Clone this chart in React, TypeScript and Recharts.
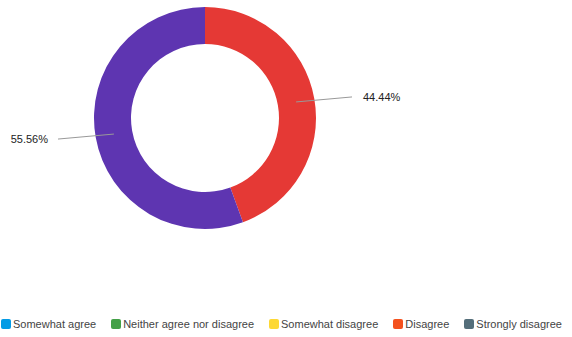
import React from "react";
import { PieChart, Pie, Cell, Legend } from "recharts";

const categories = ["Somewhat agree", "Neither agree nor disagree", "Somewhat disagree", "Disagree", "Strongly disagree"];
const responses = [0, 0, 0, 4, 5];
const legendColors = ["#039BE5", "#43A047", "#FDD835", "#F4511E", "#546E7A"];
const sliceColors = ["#039BE5", "#43A047", "#FDD835", "#E53935", "#5E35B1"];

const data = categories
  .map((name, i) => ({ name, value: responses[i], color: sliceColors[i] }))
  .filter((d) => d.value > 0);

const RADIAN = Math.PI / 180;

// line starts mid-ring and runs out almost flat to the label
const renderLabel = (props: any) => {
  const { cx, cy, midAngle, innerRadius, outerRadius, percent } = props;
  const cos = Math.cos(-midAngle * RADIAN);
  const sin = Math.sin(-midAngle * RADIAN);
  const r0 = (innerRadius + outerRadius) / 2;
  const sx = cx + r0 * cos;
  const sy = cy + r0 * sin;
  const right = cos >= 0;
  const ex = right ? cx + outerRadius + 36 : cx - outerRadius - 36;
  const ey = sy + (right ? -5 : 5);
  const tx = right ? ex + 11 : ex - 10;
  return (
    <g>
      <path d={`M${sx},${sy}L${ex},${ey}`} stroke="#999" strokeWidth={1} fill="none" />
      <text x={tx} y={ey} dy={4} textAnchor={right ? "start" : "end"} fill="#222" fontSize={11}
        fontFamily="'Liberation Sans', Arial, sans-serif">
        {(percent * 100).toFixed(2)}%
      </text>
    </g>
  );
};

const renderLegend = () => (
  <div style={{ display: "flex", alignItems: "center", whiteSpace: "nowrap", fontFamily: "'Liberation Sans', Arial, sans-serif", fontSize: 11, color: "#444" }}>
    {categories.map((c, i) => (
      <div key={c} style={{ display: "flex", alignItems: "center", flexShrink: 0, marginRight: 15 }}>
        <span style={{ width: 10, height: 10, borderRadius: 2, background: legendColors[i], marginRight: 2, display: "inline-block" }} />
        <span>{c}</span>
      </div>
    ))}
  </div>
);

export default function App() {
  return (
    <div style={{ position: "absolute", left: 0, top: 0, width: 572, height: 337, background: "#fff" }}>
      <PieChart width={572} height={337} margin={{ top: 0, right: 0, bottom: 0, left: 0 }}>
        <Pie
          data={data}
          dataKey="value"
          nameKey="name"
          cx={205}
          cy={118}
          innerRadius={74}
          outerRadius={111}
          startAngle={90}
          endAngle={-270}
          stroke="none"
          label={renderLabel}
          labelLine={false}
          isAnimationActive={false}
        >
          {data.map((d) => (
            <Cell key={d.name} fill={d.color} />
          ))}
        </Pie>
        <Legend
          content={renderLegend}
          verticalAlign="bottom"
          wrapperStyle={{ left: 1, bottom: 7, width: 572 }}
        />
      </PieChart>
    </div>
  );
}
